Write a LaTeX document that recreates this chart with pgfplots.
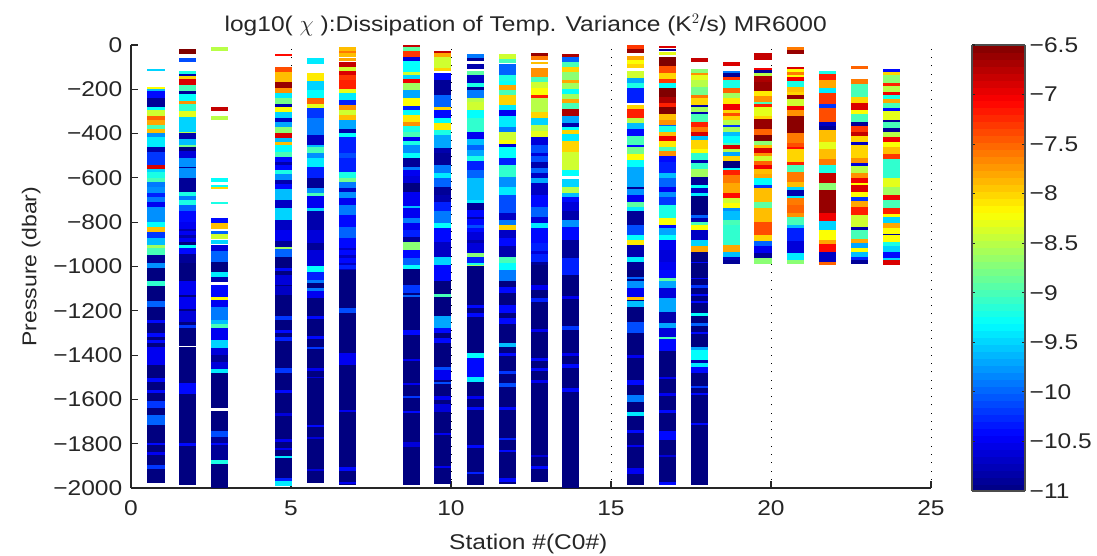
\documentclass[border=0pt]{standalone}
\usepackage{fontspec}
\setmainfont[FakeStretch=1.15]{Liberation Sans}
\usepackage{pgfplots}
\pgfplotsset{compat=1.18}
\pgfdeclareplotmark{band}{\pgfpathrectanglecorners{\pgfqpoint{-6.55pt}{0.05pt}}{\pgfpoint{6.55pt}{-\h pt}}\pgfusepathqfill}
\pgfplotsset{bd/.style={scatter,only marks,mark=band,point meta=\thisrow{c},
 visualization depends on={(\thisrow{q}-\thisrow{p})*0.166125+0.1\as\h},
 scatter/use mapped color={fill=mapped color,draw=none},
 /pgfplots/table/y expr=-\thisrow{p}}}
\begin{document}
\begin{tikzpicture}
\useasboundingbox (-98.25pt,-51pt) rectangle (724.5pt,366pt);
\begin{axis}[
 at={(0pt,0pt)},anchor=south west,scale only axis,width=600pt,height=332.25pt,
 xmin=0,xmax=25,ymin=-2000,ymax=0,
 axis lines=left,axis line style={-,line width=0.8pt,black!85},
 tick align=inside,major tick length=5pt,tick style={line width=0.8pt,black!85},
 xtick={0,5,10,15,20,25},xticklabels={0,5,10,15,20,25},
 ytick={0,-200,-400,-600,-800,-1000,-1200,-1400,-1600,-1800,-2000},
 yticklabels={0,−200,−400,−600,−800,−1000,−1200,−1400,−1600,−1800,−2000},
 tick label style={font=\fontsize{16}{16}\selectfont,black!85},
 xticklabel style={yshift=-6pt},yticklabel style={xshift=-3pt},
 xmajorgrids=true,grid style={line width=0.7pt,black,dash pattern=on 0.7pt off 5.5pt},
 colormap/jet,point meta min=-11,point meta max=-6.5,
 colorbar,colorbar sampled,
 colorbar style={samples=65,at={(1.05125,1)},anchor=north west,width=39.75pt,height=334.5pt,
  ymin=-11,ymax=-6.5,ytick={-11,-10.5,-10,-9.5,-9,-8.5,-8,-7.5,-7,-6.5},
  yticklabels={−11,−10.5,−10,−9.5,−9,−8.5,−8,−7.5,−7,−6.5},
  ytick pos=both,yticklabel pos=right,tick align=inside,major tick length=2.6pt,
  yticklabel style={font=\fontsize{16}{16}\selectfont,black!85,xshift=0pt},
  axis line style={line width=0.8pt,black!70},tick style={line width=0.8pt,black!85}},
 clip=true,
]
% station 1
\addplot[bd] table[x expr=.78]{
p q c
110 117 -9.5
191 200 -8.2
200 210 -9.6
210 240 -10.4
240 281 -10.9
281 293 -9.3
293 320 -8.4
320 338 -7.5
338 361 -7.8
361 380 -9.0
380 399 -7.9
399 414 -9.8
414 459 -9.4
459 483 -10.8
483 542 -10.2
542 558 -6.9
558 572 -9.5
572 602 -9.2
602 617 -9.0
617 640 -9.9
640 670 -9.8
670 685 -10.3
685 707 -9.9
707 730 -10.5
730 798 -9.8
798 820 -9.3
820 843 -7.9
843 873 -10.2
873 903 -9.6
903 918 -8.6
918 948 -9.0
948 986 -10.9
986 1008 -9.8
1008 1978 -11
1068 1086 -9.1
1158 1181 -10.0
1241 1253 -10.4
1301 1316 -10.4
1332 1347 -10.4
1362 1445 -10.5
1505 1520 -10.4
1557 1572 -10.4
1607 1640 -10.2
1670 1715 -10.0
1798 1806 -10.4
1836 1851 -10.5
1896 1914 -10.2
};
% station 2
\addplot[bd] table[x expr=1.76]{
p q c
20 42 -6.5
57 74 -10.1
116 131 -9.2
131 140 -10.8
140 155 -8
155 181 -6.9
181 206 -9
206 221 -10.9
221 251 -9.3
251 266 -7.7
266 300 -9.1
300 327 -8.3
327 391 -9.5
391 399 -8.5
399 426 -10.8
426 451 -9.6
451 459 -8.8
459 477 -11
477 512 -10.6
512 557 -9.8
550 557 -10.9
557 602 -9.8
602 662 -10.9
662 682 -9.2
682 700 -9.9
700 722 -9.2
722 752 -10
752 798 -10.4
798 888 -10.5
830 838 -10.8
860 870 -10.8
888 903 -11
903 918 -9.3
918 943 -10.4
943 986 -10.9
986 1360 -11
1366 1986 -11
1068 1130 -10.5
1140 1190 -10.5
1200 1249 -10.6
1264 1279 -10.2
1527 1577 -10.4
1798 1810 -10.4
};
% station 3
\addplot[bd] table[x expr=2.76]{
p q c
11 27 -8.5
281 296 -6.8
319 336 -8.5
603 620 -9.3
632 643 -9.3
643 649 -8
707 716 -9.2
783 805 -10.4
805 829 -7.9
841 852 -10
852 874 -8.4
880 900 -9.5
903 929 -10.6
929 978 -10
978 1023 -11
1023 1046 -9.4
1046 1068 -10.8
1083 1136 -10.4
1136 1151 -8.2
1151 1181 -10.5
1181 1241 -9.9
1241 1261 -9.6
1261 1279 -9
1279 1332 -10.5
1332 1369 -9.5
1369 1400 -10.6
1400 1430 -10.9
1430 1464 -10.6
1464 1479 -9.4
1479 1637 -11
1652 1742 -11
1742 1771 -10.1
1771 1873 -10.9
1873 1891 -9.2
1891 2000 -11
1798 1806 -10.4
};
% station 5
\addplot[bd] table[x expr=4.76]{
p q c
41 50 -7.1
101 120 -7.4
120 165 -7.9
169 196 -6.6
196 215 -7.7
215 241 -9.4
241 266 -8.8
266 278 -10.8
278 301 -8.2
301 331 -9.5
331 346 -10.7
346 372 -9.7
372 396 -8.7
396 418 -6.9
418 436 -9.6
436 454 -7.9
454 482 -9.3
482 507 -9.0
507 564 -10.4
530 540 -10.8
564 582 -9.2
582 610 -9.8
610 627 -10.8
627 652 -10.4
652 700 -9.6
700 737 -10.7
737 790 -9.5
790 835 -10.7
835 883 -10.5
883 913 -10.9
913 922 -8.6
922 956 -10
956 1008 -11
1008 1980 -11
1008 1020 -10.4
1038 1083 -10.6
1090 1128 -10.7
1226 1241 -10.2
1286 1301 -10.4
1317 1336 -10.3
1460 1479 -10.2
1557 1570 -10.4
1663 1673 -10.6
1778 1790 -10.5
1818 1828 -10.5
1854 1863 -9.4
1956 1968 -10.3
1968 1990 -9.4
};
% station 6
\addplot[bd] table[x expr=5.76]{
p q c
57 87 -9.4
125 161 -8.1
165 203 -9.5
203 241 -9.3
241 266 -7.5
266 286 -8.3
286 331 -10.2
331 406 -9.9
406 451 -10.7
451 462 -9.6
462 486 -9
486 512 -9.8
512 549 -9.4
549 602 -10.3
602 647 -10.9
647 670 -9.8
670 680 -9
680 737 -10.5
737 752 -9.5
752 835 -10.8
835 895 -10.6
895 925 -10.9
925 1000 -10.6
1000 1023 -9.3
1023 1061 -10.3
1061 1076 -9.9
1076 1098 -11
1098 1113 -9.9
1113 1143 -10.5
1143 1978 -11
1226 1238 -10.4
1316 1328 -10.4
1362 1374 -10.2
1460 1470 -10.5
1497 1505 -10.6
1715 1726 -10.4
1768 1776 -10.6
1914 1922 -10.6
};
% station 7
\addplot[bd] table[x expr=6.76]{
p q c
11 26 -7.9
26 38 -7.6
38 53 -7.9
57 72 -7.8
78 101 -6.8
101 116 -8.4
116 138 -6.9
138 158 -7.3
158 200 -7.2
200 218 -8.3
218 248 -9.4
248 271 -10.3
271 293 -7.7
293 316 -8.4
316 338 -7.9
338 380 -9.7
380 396 -10.8
396 417 -9.3
417 489 -10.3
489 512 -10.1
512 572 -10.3
572 602 -9.2
602 617 -8.8
617 647 -9.9
647 665 -10.7
665 692 -9.8
692 722 -10.5
722 767 -9.9
767 820 -10.4
820 873 -10
873 986 -10.4
915 925 -10.7
950 960 -10.7
986 1016 -10.7
1016 1987 -11
993 1011 -10.3
1189 1211 -10.1
1392 1445 -10.5
1647 1657 -10.5
1904 1922 -10.4
1971 1983 -10.5
};
% station 9
\addplot[bd] table[x expr=8.76]{
p q c
0 8 -6.8
8 27 -8.9
27 53 -7.3
53 71 -10.6
71 120 -9.3
120 135 -8.4
135 155 -9.5
155 173 -7
173 203 -8.6
203 241 -9.7
241 275 -8.2
275 293 -10.3
293 316 -9.3
316 346 -8.1
346 366 -7.7
366 391 -9.2
391 417 -9.0
417 432 -10.5
432 451 -9.2
451 489 -9.8
489 512 -9.3
512 549 -10.9
549 564 -9.9
564 591 -10.5
591 625 -10.6
625 662 -11
662 727 -10.5
727 737 -9.6
737 783 -10.5
783 805 -9.9
805 835 -10.5
835 865 -10.3
865 888 -10.9
888 925 -8.7
925 963 -10.4
963 1016 -10
993 1011 -9.3
1011 1988 -11
1083 1121 -10.2
1128 1136 -10
1286 1309 -10.4
1420 1428 -10.5
1527 1535 -10.5
1583 1592 -10.2
1652 1660 -10.4
1794 1813 -10.6
};
% station 10
\addplot[bd] table[x expr=9.74]{
p q c
26 38 -6.8
38 53 -7.8
53 105 -8.4
105 116 -8
125 158 -10.4
158 226 -10.9
226 278 -10
278 293 -8.0
293 331 -10.4
331 354 -9.3
354 384 -8.1
384 406 -9.2
406 467 -9.7
467 489 -10.8
489 542 -10.9
542 580 -9.9
580 602 -9.4
602 640 -10
640 677 -10.9
677 707 -10.8
707 752 -10.3
752 805 -9.9
805 828 -9.3
828 888 -10.4
888 956 -10.7
956 993 -9.5
993 1068 -10.4
1068 1980 -11
1125 1136 -9
1226 1279 -9.7
1279 1301 -10.4
1324 1347 -10.4
1452 1467 -10.1
1467 1512 -10.5
1520 1532 -10.1
1587 1600 -10.5
1620 1655 -10.6
1750 1762 -10.5
1900 1910 -10.5
};
% station 11
\addplot[bd] table[x expr=10.77]{
p q c
41 57 -9.9
57 71 -10.9
87 110 -10.8
116 138 -8.9
138 170 -10.7
170 191 -9.2
191 203 -10.9
203 241 -9.9
241 256 -8.5
256 293 -8.4
293 331 -9.3
331 391 -9.1
391 426 -10.5
426 451 -9.6
451 474 -10
474 501 -9.7
501 522 -9.2
522 564 -10.3
564 602 -10
602 640 -9.6
640 700 -9.6
700 715 -9.4
715 745 -10.9
745 843 -10.4
775 785 -10.8
815 825 -10.1
843 941 -10.6
880 895 -10.8
941 956 -8.7
956 986 -10.3
986 1016 -9.2
993 1000 -8.6
1000 1988 -11
1174 1189 -10.4
1211 1226 -10.4
1392 1414 -9.3
1414 1497 -10.4
1497 1520 -9.4
1587 1597 -10.5
1633 1648 -10.4
1806 1818 -10.4
1926 1938 -10.3
};
% station 12
\addplot[bd] table[x expr=11.76]{
p q c
41 65 -8.4
65 80 -9
87 135 -10
135 165 -9.2
165 181 -9.3
181 203 -7.8
203 226 -9
226 271 -8
271 296 -9.4
296 323 -10.5
323 372 -9.4
372 391 -9.9
391 429 -8.4
429 447 -8.2
447 462 -10.6
462 512 -9.3
512 542 -10.3
542 595 -9.1
595 640 -9.8
640 677 -9.4
677 760 -10.1
760 790 -10.7
790 813 -9.9
813 835 -8
835 873 -10.7
873 910 -10.4
910 956 -10.8
956 986 -9
986 1016 -9.3
1016 1068 -9.9
1068 1982 -11
1091 1121 -10.4
1174 1211 -10.4
1234 1261 -10.4
1347 1362 -9.6
1392 1402 -10.4
1474 1486 -10.2
1527 1542 -10.1
1633 1648 -10.4
1775 1783 -10.3
1828 1838 -10.4
1956 1971 -10.4
};
% station 13
\addplot[bd] table[x expr=12.77]{
p q c
35 52 -6.6
52 65 -7.6
75 87 -7.9
102 143 -7.7
143 166 -9
166 196 -8.4
196 226 -8.2
226 241 -7.2
241 263 -8.5
263 301 -8.5
301 331 -8
331 361 -9.5
361 388 -8.5
388 417 -8.3
417 451 -10.6
451 527 -10.1
490 500 -10.6
527 557 -10.8
557 579 -10
579 602 -10.7
602 625 -9.7
625 677 -10.7
677 730 -10.4
730 775 -10
775 805 -10.6
805 828 -9.4
828 895 -10.4
895 978 -10.3
930 945 -10.6
978 1016 -10.9
993 1974 -11
1083 1106 -10.5
1143 1158 -10.3
1283 1295 -10.5
1414 1426 -10.4
1460 1472 -10.4
1513 1525 -10.5
1850 1860 -10.6
1900 1912 -10.4
};
% station 14
\addplot[bd] table[x expr=13.74]{
p q c
41 53 -6.7
53 78 -10
78 101 -9
101 120 -8
120 158 -8.7
158 173 -7.8
173 200 -8.6
200 221 -9.3
221 244 -8.6
244 260 -7.8
260 290 -9
290 320 -6.7
320 354 -9.7
354 372 -10.8
372 384 -9.3
384 402 -8
402 432 -9.4
432 482 -8
482 564 -8.4
564 591 -9.3
606 640 -9.5
640 670 -8.5
670 685 -9.6
685 707 -10.4
707 752 -10.6
752 790 -10.8
790 820 -9.8
820 880 -10.4
880 963 -10.9
963 1000 -10.3
1000 1038 -10.3
1038 2000 -11
1134 1145 -10.5
1268 1285 -10.2
1390 1402 -10.5
1442 1456 -10.4
1550 1566 -10.4
};
% station 16
\addplot[bd] table[x expr=15.76]{
p q c
0 20 -7.3
20 35 -6.6
50 68 -7.8
68 87 -8.2
87 102 -8
117 150 -8.4
150 170 -9.7
170 196 -9.2
196 263 -10.3
271 290 -8
290 331 -7.2
331 351 -8.5
351 381 -9.6
381 411 -10.4
411 451 -9
451 462 -10.4
462 492 -8.8
492 519 -8.2
519 549 -9.3
549 640 -9.7
640 652 -10.9
652 677 -9.8
677 707 -10.5
707 730 -8.9
730 752 -9.4
752 813 -10.9
813 858 -10.1
858 880 -9.3
880 903 -8.1
903 956 -10.8
956 978 -9.4
978 1016 -10.9
1016 1987 -11
1046 1056 -10
1068 1098 -9.8
1098 1143 -10.5
1140 1151 -7.9
1158 1181 -9.6
1249 1301 -10.1
1400 1412 -10.5
1512 1535 -10.4
1580 1610 -9.9
1655 1673 -9.4
1738 1750 -10.4
1806 1816 -10.5
1911 1935 -10.5
};
% station 17
\addplot[bd] table[x expr=16.77]{
p q c
3 12 -6.9
18 27 -10.9
30 45 -8.3
56 95 -6.5
95 128 -7.4
128 155 -8
155 173 -7.3
173 196 -9.3
196 233 -6.5
233 263 -6.7
263 281 -7.2
281 311 -6.5
311 338 -7.9
338 361 -7.7
361 368 -10
368 391 -9.2
391 411 -7.9
411 432 -7
432 459 -8.1
459 477 -9
477 501 -7.7
501 527 -10.4
527 579 -10.3
579 602 -9.6
602 640 -10
640 662 -10.5
662 685 -9.8
685 722 -10.2
722 783 -9.2
783 813 -8.2
813 828 -10.4
828 858 -9.7
858 880 -9.3
880 925 -10.5
925 978 -10.6
978 1016 -10.5
1016 1050 -10.4
1050 1068 -8.9
1068 1098 -9.7
1098 1143 -10.6
1143 1204 -9.7
1204 1256 -10.8
1256 1279 -9.7
1279 1317 -10.6
1317 1327 -9
1327 1380 -10.4
1380 1988 -11
1497 1508 -10.5
1572 1584 -10.5
1648 1663 -10.4
1745 1783 -10.4
1850 1860 -10.6
1974 1988 -10.4
};
% station 18
\addplot[bd] table[x expr=17.76]{
p q c
57 75 -6.8
110 125 -8.7
125 135 -7.7
135 158 -8.3
158 188 -8.5
188 226 -8.8
226 241 -7.6
241 271 -8
271 281 -10.8
281 301 -8.6
301 312 -10.8
312 346 -9
346 369 -7.2
369 391 -7.6
391 411 -6.9
411 429 -9.6
429 471 -8
471 489 -8.2
489 519 -9.1
519 531 -10.8
531 561 -9.1
561 595 -8.6
595 632 -10.9
632 647 -9.3
647 667 -10.7
667 680 -9.4
680 767 -11
767 783 -10
783 798 -10.8
798 813 -9
813 835 -8.2
835 880 -10.7
880 910 -9.5
910 933 -7.8
933 978 -11
978 985 -10.4
985 1987 -11
1050 1058 -10.4
1086 1096 -10.2
1124 1132 -10.4
1155 1162 -10.4
1212 1224 -9.3
1257 1269 -10
1296 1306 -10.4
1362 1377 -9.7
1377 1422 -9.3
1422 1437 -10.8
1437 1452 -9.4
1452 1482 -10.4
1540 1548 -10.2
1570 1578 -10.4
1708 1716 -10.4
};
% station 19
\addplot[bd] table[x expr=18.76]{
p q c
78 93 -6.9
116 125 -9.9
125 143 -10.9
143 158 -7.3
158 196 -9.2
196 215 -7.5
215 241 -8.6
241 266 -8.1
266 293 -7
293 308 -8
308 323 -7.4
323 338 -8
338 361 -8.5
361 372 -10.2
372 394 -8.6
394 411 -9.6
411 441 -9.3
441 451 -9
451 471 -6.9
471 482 -8.5
482 501 -9.7
501 522 -8
522 554 -11
554 564 -9.3
564 587 -7.2
587 625 -7.6
625 670 -7.8
670 692 -7.1
692 715 -8.4
715 737 -8.2
737 752 -9.8
752 790 -9.6
790 813 -9
813 903 -9.1
903 933 -7.8
933 956 -9.6
956 971 -10.7
971 986 -10.9
};
% station 20
\addplot[bd] table[x expr=19.75]{
p q c
38 65 -6.8
102 113 -7
113 128 -10.9
128 140 -8.5
140 168 -6.7
168 208 -6.6
208 229 -8.1
229 256 -7.7
256 266 -9
266 281 -7.2
281 320 -8.3
320 335 -8
335 381 -6.6
381 408 -7.5
408 432 -6.5
432 451 -8.7
451 466 -7.9
466 486 -6.9
486 501 -7.7
501 522 -8.4
522 542 -7.5
542 561 -7
561 582 -7.9
582 602 -7.8
602 632 -9.3
632 647 -10.2
647 707 -7.9
707 737 -8.9
737 798 -7.9
798 858 -7.4
858 883 -8
883 910 -10
910 941 -10.5
941 963 -10.9
963 986 -8.7
};
% station 21
\addplot[bd] table[x expr=20.77]{
p q c
11 23 -7.6
23 42 -6.6
101 110 -6.9
110 120 -8.2
120 135 -7.6
135 146 -8.2
146 161 -7
161 188 -9.2
188 211 -7.9
211 226 -8
226 245 -6.6
245 275 -8.4
275 296 -7
296 320 -7.7
320 399 -6.55
399 444 -7.6
444 459 -7.4
459 471 -7.1
471 527 -8
527 542 -7.2
542 572 -9
572 617 -7.6
617 640 -7.9
640 654 -9.5
654 680 -10.8
680 692 -9.4
692 722 -7.6
722 760 -7.5
760 778 -7.7
778 813 -9
813 828 -9.6
828 883 -10.3
883 941 -10.6
941 971 -9.4
971 986 -8.7
};
% station 22
\addplot[bd] table[x expr=21.76]{
p q c
116 131 -9.2
131 158 -7.2
158 196 -7.8
196 218 -9.4
218 266 -7.3
266 286 -10.2
286 346 -7.4
346 366 -10.7
366 384 -10.9
384 440 -7.9
440 470 -8.3
470 516 -7.9
516 542 -7.6
542 576 -9.2
576 625 -6.8
625 655 -8.7
655 760 -6.6
760 793 -7
793 835 -9.5
835 880 -8.2
880 900 -7.8
900 933 -7.1
933 978 -10.7
978 993 -7.5
};
% station 23
\addplot[bd] table[x expr=22.77]{
p q c
95 110 -7.5
155 176 -7.6
176 233 -9
233 260 -8
260 293 -6.9
293 312 -8.2
312 346 -9
346 366 -10.9
366 391 -7.3
391 411 -6.8
411 436 -8
436 451 -10.7
451 512 -8
512 534 -7.7
534 546 -10.6
546 579 -8.5
579 602 -7.7
602 622 -7
622 632 -8.2
632 662 -6.9
662 685 -8.2
685 703 -10.2
703 730 -7.8
730 767 -7.2
767 820 -8.4
820 835 -10.8
835 877 -9
877 895 -7.8
895 918 -9.7
918 933 -8.2
933 956 -9.6
956 971 -10.3
971 986 -10.9
};
% station 24
\addplot[bd] table[x expr=23.76]{
p q c
110 120 -10.4
120 135 -8
135 173 -8.7
173 185 -7.2
185 211 -8.5
211 226 -7
226 244 -9.2
244 260 -7.8
260 286 -9
286 298 -10.4
298 339 -8.3
339 349 -10.9
349 376 -9
376 391 -10.9
391 417 -8.5
417 436 -7
436 462 -8.2
462 492 -7.9
492 516 -7.3
516 602 -9.1
602 640 -8.3
640 677 -8.6
677 700 -7
700 737 -9
737 763 -7.2
763 778 -8.2
778 802 -9.5
802 828 -7.8
828 853 -8.2
853 858 -10.9
858 888 -8.2
888 910 -9.2
910 933 -9.5
933 963 -10.4
963 971 -9.5
971 993 -6.9
};
\end{axis}
\node[font=\fontsize{16}{16}\selectfont,black!85,anchor=base] at (296pt,342pt) {log10( $\chi$ ):Dissipation of Temp. Variance (K$^2$/s) MR6000};
\node[font=\fontsize{16}{16}\selectfont,black!85,anchor=base] at (298pt,-46pt) {Station \#(C0\#)};
\node[font=\fontsize{15}{15}\selectfont,black!85,rotate=90,anchor=base] at (-71pt,166pt) {Pressure (dbar)};
\end{tikzpicture}
\end{document}
